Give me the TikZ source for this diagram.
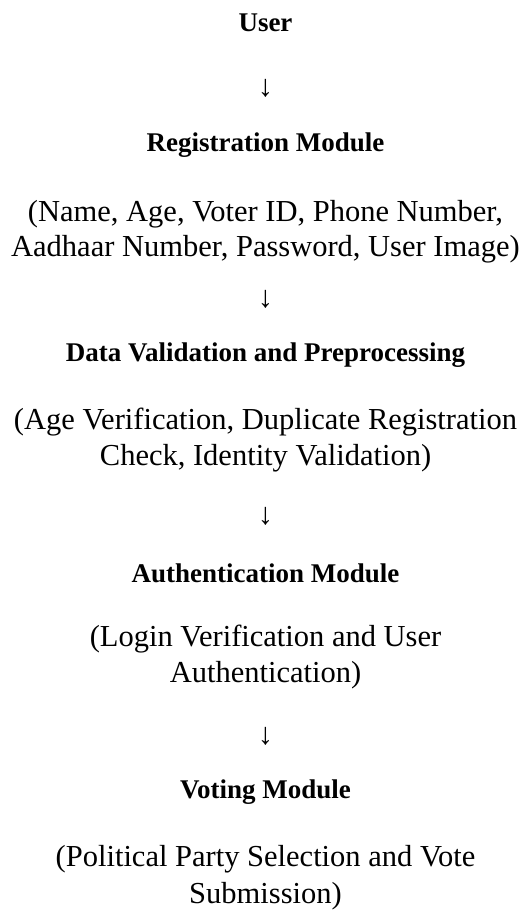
\documentclass[tikz,border=0pt]{standalone}
\usepackage{fontspec}
\setmainfont{Liberation Serif}
\begin{document}
\begin{tikzpicture}[x=1pt,y=1pt,
  head/.style={font=\fontsize{27}{32}\selectfont\bfseries, inner sep=0pt, anchor=base},
  body/.style={font=\fontsize{30.5}{36}\selectfont, inner sep=0pt, anchor=base},
  arrowglyph/.style={font=\fontsize{30.5}{36}\selectfont, inner sep=0pt, anchor=center}]
\useasboundingbox (0,0) rectangle (531,911);
\def\cx{265.5}
\node[head] (user) at (\cx,911-32) {User};
\node[arrowglyph] (a1) at (\cx,911-88) {↓};
\node[head] (reg) at (\cx,911-152) {Registration Module};
\node[body] (reg1) at (\cx,911-222) {(Name, Age, Voter ID, Phone Number,};
\node[body] (reg2) at (\cx,911-257) {Aadhaar Number, Password, User Image)};
\node[arrowglyph] (a2) at (\cx,911-299) {↓};
\node[head] (val) at (\cx,911-362) {Data Validation and Preprocessing};
\node[body] (val1) at (\cx,911-430) {(Age Verification, Duplicate Registration};
\node[body] (val2) at (\cx,911-466) {Check, Identity Validation)};
\node[arrowglyph] (a3) at (\cx,911-516) {↓};
\node[head] (auth) at (\cx,911-583) {Authentication Module};
\node[body] (auth1) at (\cx,911-647) {(Login Verification and User};
\node[body] (auth2) at (\cx,911-683) {Authentication)};
\node[arrowglyph] (a4) at (\cx,911-736) {↓};
\node[head] (vote) at (\cx,911-799) {Voting Module};
\node[body] (vote1) at (\cx,911-866) {(Political Party Selection and Vote};
\node[body] (vote2) at (\cx,911-903) {Submission)};
\end{tikzpicture}
\end{document}
